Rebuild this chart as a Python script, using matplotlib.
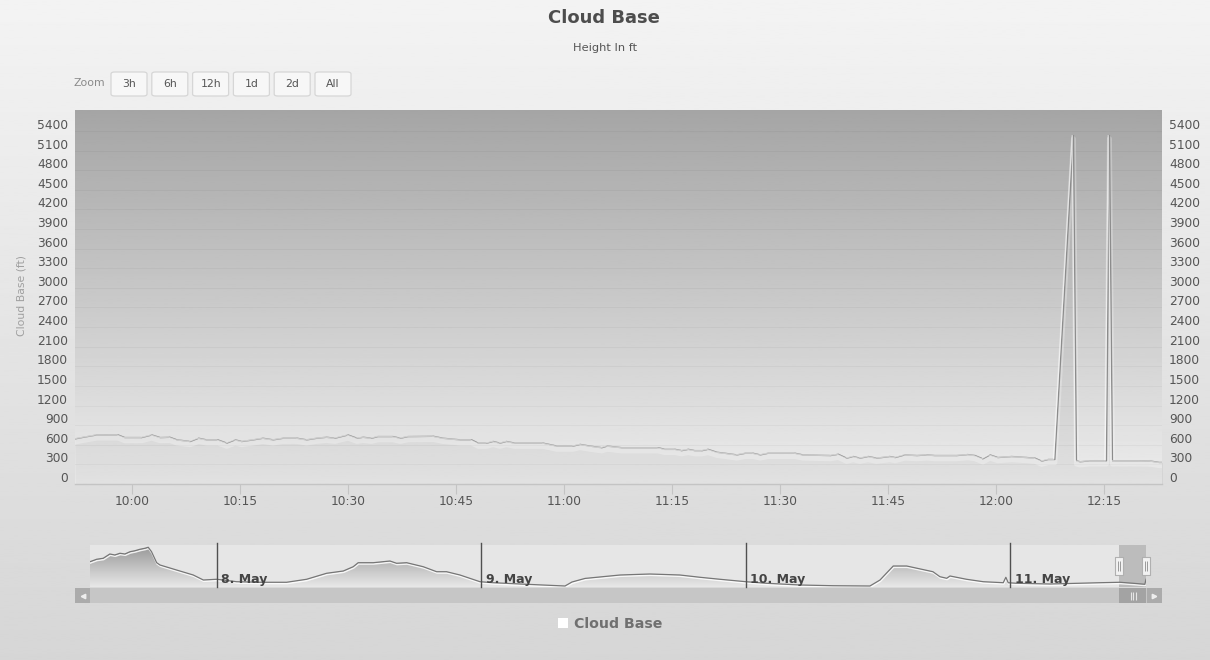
import numpy as np
import pandas as pd
import matplotlib
matplotlib.use("Agg")
import matplotlib.pyplot as plt
import matplotlib.dates as mdates
import matplotlib.patheffects as pe
from matplotlib.patches import FancyBboxPatch, Rectangle, Patch
from matplotlib.path import Path
from matplotlib.transforms import ScaledTranslation

# ---------------- data ----------------
DAY = "2017-05-11"
main_times = [
    "09:52:05", "09:53:15", "09:55:05", "09:58:05", "09:59:00", "10:01:20", "10:02:45", "10:03:55",
    "10:05:15", "10:06:15", "10:08:05", "10:09:15", "10:10:20", "10:11:55", "10:13:10", "10:14:20",
    "10:15:15", "10:16:50", "10:18:10", "10:19:35", "10:21:00", "10:22:55", "10:24:15", "10:25:40",
    "10:27:00", "10:28:10", "10:30:00", "10:31:15", "10:32:05", "10:33:15", "10:34:10", "10:36:15",
    "10:37:15", "10:38:20", "10:41:50", "10:43:10", "10:44:35", "10:45:35", "10:47:10", "10:48:05",
    "10:49:15", "10:50:10", "10:51:05", "10:52:00", "10:53:10", "10:57:05", "10:59:00", "11:01:15",
    "11:02:15", "11:03:35", "11:05:15", "11:06:00", "11:08:00", "11:13:05", "11:14:00", "11:15:25",
    "11:16:20", "11:17:15", "11:18:10", "11:19:10", "11:20:00", "11:21:15", "11:22:20", "11:24:00",
    "11:25:10", "11:26:15", "11:27:15", "11:28:20", "11:32:05", "11:33:10", "11:37:00", "11:38:05",
    "11:39:15", "11:40:10", "11:41:05", "11:42:15", "11:43:25", "11:45:15", "11:46:00", "11:47:20",
    "11:49:00", "11:50:25", "11:51:30", "11:54:30", "11:56:05", "11:57:05", "11:58:10", "11:59:10",
    "12:00:15", "12:02:10", "12:04:15", "12:05:25", "12:06:20", "12:07:15", "12:08:10", "12:10:45",
    "12:11:10", "12:11:40", "12:13:00", "12:15:20", "12:15:45", "12:16:10", "12:20:00", "12:21:30",
    "12:22:40", "12:23:10",
]
main_values = [
    690, 715, 750, 750, 710, 710, 750, 710,
    715, 675, 650, 700, 675, 675, 625, 675,
    650, 675, 700, 675, 700, 700, 675, 700,
    715, 700, 750, 700, 715, 700, 725, 725,
    700, 725, 730, 700, 685, 675, 675, 625,
    625, 650, 625, 650, 625, 625, 580, 580,
    605, 580, 555, 580, 555, 555, 530, 530,
    510, 530, 510, 510, 530, 485, 470, 445,
    470, 470, 445, 470, 470, 445, 435, 455,
    395, 420, 395, 420, 395, 420, 405, 445,
    435, 445, 435, 435, 450, 435, 385, 445,
    405, 420, 405, 395, 350, 375, 375, 5330,
    355, 340, 355, 355, 5330, 355, 355, 350,
    330, 330,
]

nav_times = [
    "2017-05-07 12:29", "2017-05-07 13:05", "2017-05-07 13:41", "2017-05-07 14:17", "2017-05-07 14:44",
    "2017-05-07 15:12", "2017-05-07 15:39", "2017-05-07 16:07", "2017-05-07 16:34", "2017-05-07 17:01",
    "2017-05-07 17:28", "2017-05-07 17:46", "2017-05-07 18:04", "2017-05-07 18:32", "2017-05-07 18:50",
    "2017-05-07 20:20", "2017-05-07 21:51", "2017-05-07 22:46", "2017-05-07 23:58", "2017-05-08 00:34",
    "2017-05-08 01:47", "2017-05-08 03:54", "2017-05-08 06:19", "2017-05-08 08:08", "2017-05-08 09:57",
    "2017-05-08 11:28", "2017-05-08 12:22", "2017-05-08 12:49", "2017-05-08 14:11", "2017-05-08 15:42",
    "2017-05-08 16:18", "2017-05-08 17:13", "2017-05-08 18:43", "2017-05-08 19:56", "2017-05-08 20:50",
    "2017-05-08 22:03", "2017-05-08 23:52", "2017-05-09 01:04", "2017-05-09 03:30", "2017-05-09 07:35",
    "2017-05-09 08:13", "2017-05-09 09:24", "2017-05-09 12:35", "2017-05-09 15:17", "2017-05-09 18:00",
    "2017-05-09 19:50", "2017-05-09 21:39", "2017-05-10 00:00", "2017-05-10 01:53", "2017-05-10 04:54",
    "2017-05-10 07:53", "2017-05-10 11:15", "2017-05-10 12:10", "2017-05-10 13:22", "2017-05-10 14:35",
    "2017-05-10 16:58", "2017-05-10 17:36", "2017-05-10 18:13", "2017-05-10 18:31", "2017-05-10 20:01",
    "2017-05-10 21:32", "2017-05-10 23:21", "2017-05-10 23:35", "2017-05-10 23:48", "2017-05-11 00:34",
    "2017-05-11 03:35", "2017-05-11 08:07", "2017-05-11 09:56", "2017-05-11 11:08", "2017-05-11 12:12",
    "2017-05-11 12:18",
]
nav_values = [
    2020, 2190, 2260, 2560, 2490,
    2610, 2560, 2720, 2790, 2890,
    2960, 3030, 2720, 1950, 1790,
    1440, 1090, 740, 790, 740,
    620, 580, 580, 790, 1210,
    1370, 1670, 1950, 1950, 2070,
    1910, 1950, 1670, 1320, 1320,
    1090, 620, 550, 460, 320,
    600, 850, 1090, 1160, 1090,
    930, 790, 620, 510, 390,
    340, 320, 740, 1720, 1720,
    1320, 970, 860, 1020, 790,
    620, 550, 930, 550, 510,
    460, 550, 580, 510, 440,
    790,
]

y_ticks = [0, 300, 600, 900, 1200, 1500, 1800, 2100, 2400, 2700, 3000,
           3300, 3600, 3900, 4200, 4500, 4800, 5100, 5400]
y_max = 5720
x_tick_labels = ["10:00", "10:15", "10:30", "10:45", "11:00", "11:15",
                 "11:30", "11:45", "12:00", "12:15"]
x_start, x_end = "09:52:05", "12:23:03"
nav_day_dates = ["2017-05-08", "2017-05-09", "2017-05-10", "2017-05-11"]
nav_day_labels = ["8. May", "9. May", "10. May", "11. May"]
nav_y_range = (250, 3190)
zoom_buttons = ["3h", "6h", "12h", "1d", "2d", "All"]

series_name = "Cloud Base"
title = "Cloud Base"
subtitle = "Height In ft"
y_title = "Cloud Base (ft)"

# ---------------- figure ----------------
W, H = 1210, 660
fig = plt.figure(figsize=(W / 100, H / 100), dpi=100)


def fx(px):
    return px / W


def fy(py):
    return 1 - py / H


# page background gradient
bg = fig.add_axes([0, 0, 1, 1], zorder=-10)
bg.imshow(np.linspace(243, 214, 256).reshape(-1, 1), aspect="auto", cmap="gray",
          vmin=0, vmax=255, extent=[0, 1, 0, 1])
bg.set_axis_off()

main_rect = [fx(75), fy(484), fx(1162) - fx(75), fy(110) - fy(484)]
# plot background gradient
pbg = fig.add_axes(main_rect, zorder=0)
pbg.imshow(np.linspace(165, 236, 256).reshape(-1, 1), aspect="auto", cmap="gray",
           vmin=0, vmax=255, extent=[0, 1, 0, 1])
pbg.set_axis_off()

ax = fig.add_axes(main_rect, zorder=1)
ax.patch.set_alpha(0)

mt = pd.to_datetime([DAY + " " + t for t in main_times])
mv = np.array(main_values)

line_fx = [pe.SimpleLineShadow(offset=(0.0, -2.3), shadow_color="white", alpha=0.28, linewidth=3.6),
           pe.Normal()]
ax.fill_between(mt, mv, 0, color="black", alpha=0.045, linewidth=0, zorder=2)
ax.plot(mt, mv, color="#8c8c8c", lw=1.0, zorder=3, path_effects=line_fx)
# white highlight of the line
ax.plot(mt, mv, color="white", lw=0.9, alpha=0.55, zorder=4,
        path_effects=[pe.Stroke(offset=(-0.9, 0.0))])

ax.set_xlim(pd.Timestamp(DAY + " " + x_start), pd.Timestamp(DAY + " " + x_end))
ax.set_ylim(0, y_max)

ax.set_yticks(y_ticks)
ax.set_yticklabels([str(v) for v in y_ticks])
ax.set_xticks(pd.to_datetime([DAY + " " + t for t in x_tick_labels]))
ax.set_xticklabels(x_tick_labels)

for s in ["top", "left", "right"]:
    ax.spines[s].set_visible(False)
ax.spines["bottom"].set_color("#c4c4c4")
ax.spines["bottom"].set_linewidth(1)

ax.tick_params(axis="y", length=0, labelsize=8.8, labelcolor="#555555",
               labelleft=True, labelright=True, pad=5)
ax.tick_params(axis="x", length=7.5, width=0.8, color="#c4c4c4", labelsize=8.8,
               labelcolor="#555555", pad=0.5)
ax.grid(axis="y", color="black", alpha=0.035, lw=0.8)
ax.grid(axis="x", visible=False)

up = ScaledTranslation(0, 0.07, fig.dpi_scale_trans)
for t in ax.yaxis.get_major_ticks():
    t.label1.set_transform(t.label1.get_transform() + up)
    t.label2.set_transform(t.label2.get_transform() + up)

# ---------------- titles ----------------
fig.text(fx(604), fy(18), title, ha="center", va="center", fontsize=13,
         fontweight="bold", color="#4d4d4d")
fig.text(fx(605), fy(48), subtitle, ha="center", va="center", fontsize=8.2, color="#555555")
fig.text(fx(22), fy(296), y_title, ha="center", va="center", rotation=90,
         fontsize=7.8, color="#a0a0a0")

# zoom buttons
fig.text(fx(74), fy(83), "Zoom", ha="left", va="center", fontsize=7.8, color="#8a8a8a")
btn_left = 111
for i, lab in enumerate(zoom_buttons):
    x0 = btn_left + i * 40.8
    b = FancyBboxPatch((fx(x0), fy(96)), fx(36), fy(72) - fy(96),
                       boxstyle="round,pad=0,rounding_size=0.003",
                       transform=fig.transFigure, facecolor="#f7f7f7",
                       edgecolor="#d6d6d6", linewidth=0.9, zorder=5)
    fig.add_artist(b)
    fig.text(fx(x0 + 18), fy(84), lab, ha="center", va="center", fontsize=7.8,
             color="#555555", zorder=6)

# ---------------- navigator ----------------
nav = fig.add_axes([fx(90), fy(587), fx(1146) - fx(90), fy(545) - fy(587)], zorder=1)
nav.set_facecolor("#e6e6e6")
nt = pd.to_datetime(nav_times)
nv = np.array(nav_values)
nav.set_xlim(nt[0], nt[-1])
nav.set_ylim(*nav_y_range)
poly = nav.fill_between(nt, nv, nav_y_range[0], color="none", linewidth=0)
x0n, x1n = mdates.date2num(nt[0]), mdates.date2num(nt[-1])
img = nav.imshow(np.linspace(150, 232, 256).reshape(-1, 1), aspect="auto", cmap="gray",
                 vmin=0, vmax=255, extent=[x0n, x1n, nav_y_range[0], nav_y_range[1]],
                 zorder=1)
img.set_clip_path(poly.get_paths()[0], transform=nav.transData)
nav.set_xlim(nt[0], nt[-1])
nav.set_ylim(*nav_y_range)
nav.plot(nt, nv, color="#767676", lw=0.9, zorder=3,
         path_effects=[pe.SimpleLineShadow(offset=(0.3, -0.9), shadow_color="white",
                                           alpha=0.85, linewidth=1.2), pe.Normal()])

for d, lab in zip(nav_day_dates, nav_day_labels):
    dd = pd.Timestamp(d)
    nav.axvline(dd, ymin=0, ymax=1.05, color="#505050", lw=1.0, zorder=4, clip_on=False)
    nav.annotate(lab, xy=(dd, 0.19), xycoords=("data", "axes fraction"),
                 xytext=(3, 0), textcoords="offset points", ha="left", va="center",
                 fontsize=9, fontweight="bold", color="#444444", zorder=5)

sel0 = pd.Timestamp(DAY + " " + x_start)
sel1 = pd.Timestamp(DAY + " " + x_end)
nav.axvspan(sel0, sel1, color="#9a9a9a", alpha=0.55, lw=0, zorder=2)

nav.set_xticks([])
nav.set_yticks([])
for s in nav.spines.values():
    s.set_visible(False)

# navigator handles
rect_marker = Path([(-0.5, -1), (0.5, -1), (0.5, 1), (-0.5, 1), (-0.5, -1)])
grip_marker = Path([(-0.12, -0.4), (-0.12, 0.4), (0.12, -0.4), (0.12, 0.4)],
                   [Path.MOVETO, Path.LINETO, Path.MOVETO, Path.LINETO])
for xs in (sel0, nt[-1]):
    nav.plot([xs], [0.5], transform=nav.get_xaxis_transform(), marker=rect_marker,
             markersize=12.5, markerfacecolor="#f2f2f2", markeredgecolor="#b0b0b0",
             markeredgewidth=0.8, clip_on=False, zorder=7, ls="none")
    nav.plot([xs], [0.5], transform=nav.get_xaxis_transform(), marker=grip_marker,
             markersize=7, markerfacecolor="none", markeredgecolor="#9a9a9a",
             markeredgewidth=0.7, clip_on=False, zorder=8, ls="none")

# scrollbar
tr = nav.transAxes
L = (75 - 90) / 1056
R = (1162 - 90) / 1056
yb0, yb1 = (587 - 603) / 42, (587 - 588) / 42
nav.add_patch(Rectangle((L, yb0), R - L, yb1 - yb0, transform=tr, facecolor="#c6c6c6",
                        edgecolor="none", clip_on=False, zorder=1))
nav.add_patch(Rectangle((L, yb0), -L, yb1 - yb0, transform=tr, facecolor="#ababab",
                        edgecolor="none", clip_on=False, zorder=2))
nav.add_patch(Rectangle((1.0 + 1 / 1056, yb0), R - 1.0 - 1 / 1056, yb1 - yb0, transform=tr,
                        facecolor="#ababab", edgecolor="none", clip_on=False, zorder=2))
nav.plot([L / 2], [(yb0 + yb1) / 2], transform=tr, marker="<", markersize=3.2,
         color="#eeeeee", clip_on=False, zorder=3, ls="none")
nav.plot([(1.0 + R) / 2], [(yb0 + yb1) / 2], transform=tr, marker=">", markersize=3.2,
         color="#eeeeee", clip_on=False, zorder=3, ls="none")
xb = nav.get_xaxis_transform()
nav.add_patch(Rectangle((mdates.date2num(sel0), yb0), mdates.date2num(nt[-1]) - mdates.date2num(sel0),
                        yb1 - yb0, transform=xb, facecolor="#a3a3a3", edgecolor="none",
                        clip_on=False, zorder=2))
grip3 = Path([(-0.3, -0.5), (-0.3, 0.5), (0, -0.5), (0, 0.5), (0.3, -0.5), (0.3, 0.5)],
             [Path.MOVETO, Path.LINETO, Path.MOVETO, Path.LINETO, Path.MOVETO, Path.LINETO])
mid = sel0 + (nt[-1] - sel0) / 2
nav.plot([mid], [(yb0 + yb1) / 2], transform=xb, marker=grip3, markersize=6,
         markerfacecolor="none", markeredgecolor="#e6e6e6", markeredgewidth=0.8,
         clip_on=False, zorder=3, ls="none")

# legend
fig.legend(handles=[Patch(facecolor="white", edgecolor="none")], labels=[series_name],
           loc="center", bbox_to_anchor=(fx(610), fy(624)), frameon=False,
           handlelength=0.75, handleheight=0.75, handletextpad=0.4,
           prop={"weight": "bold", "size": 10.2}, labelcolor="#707070")

fig.savefig("out.png", dpi=100)
